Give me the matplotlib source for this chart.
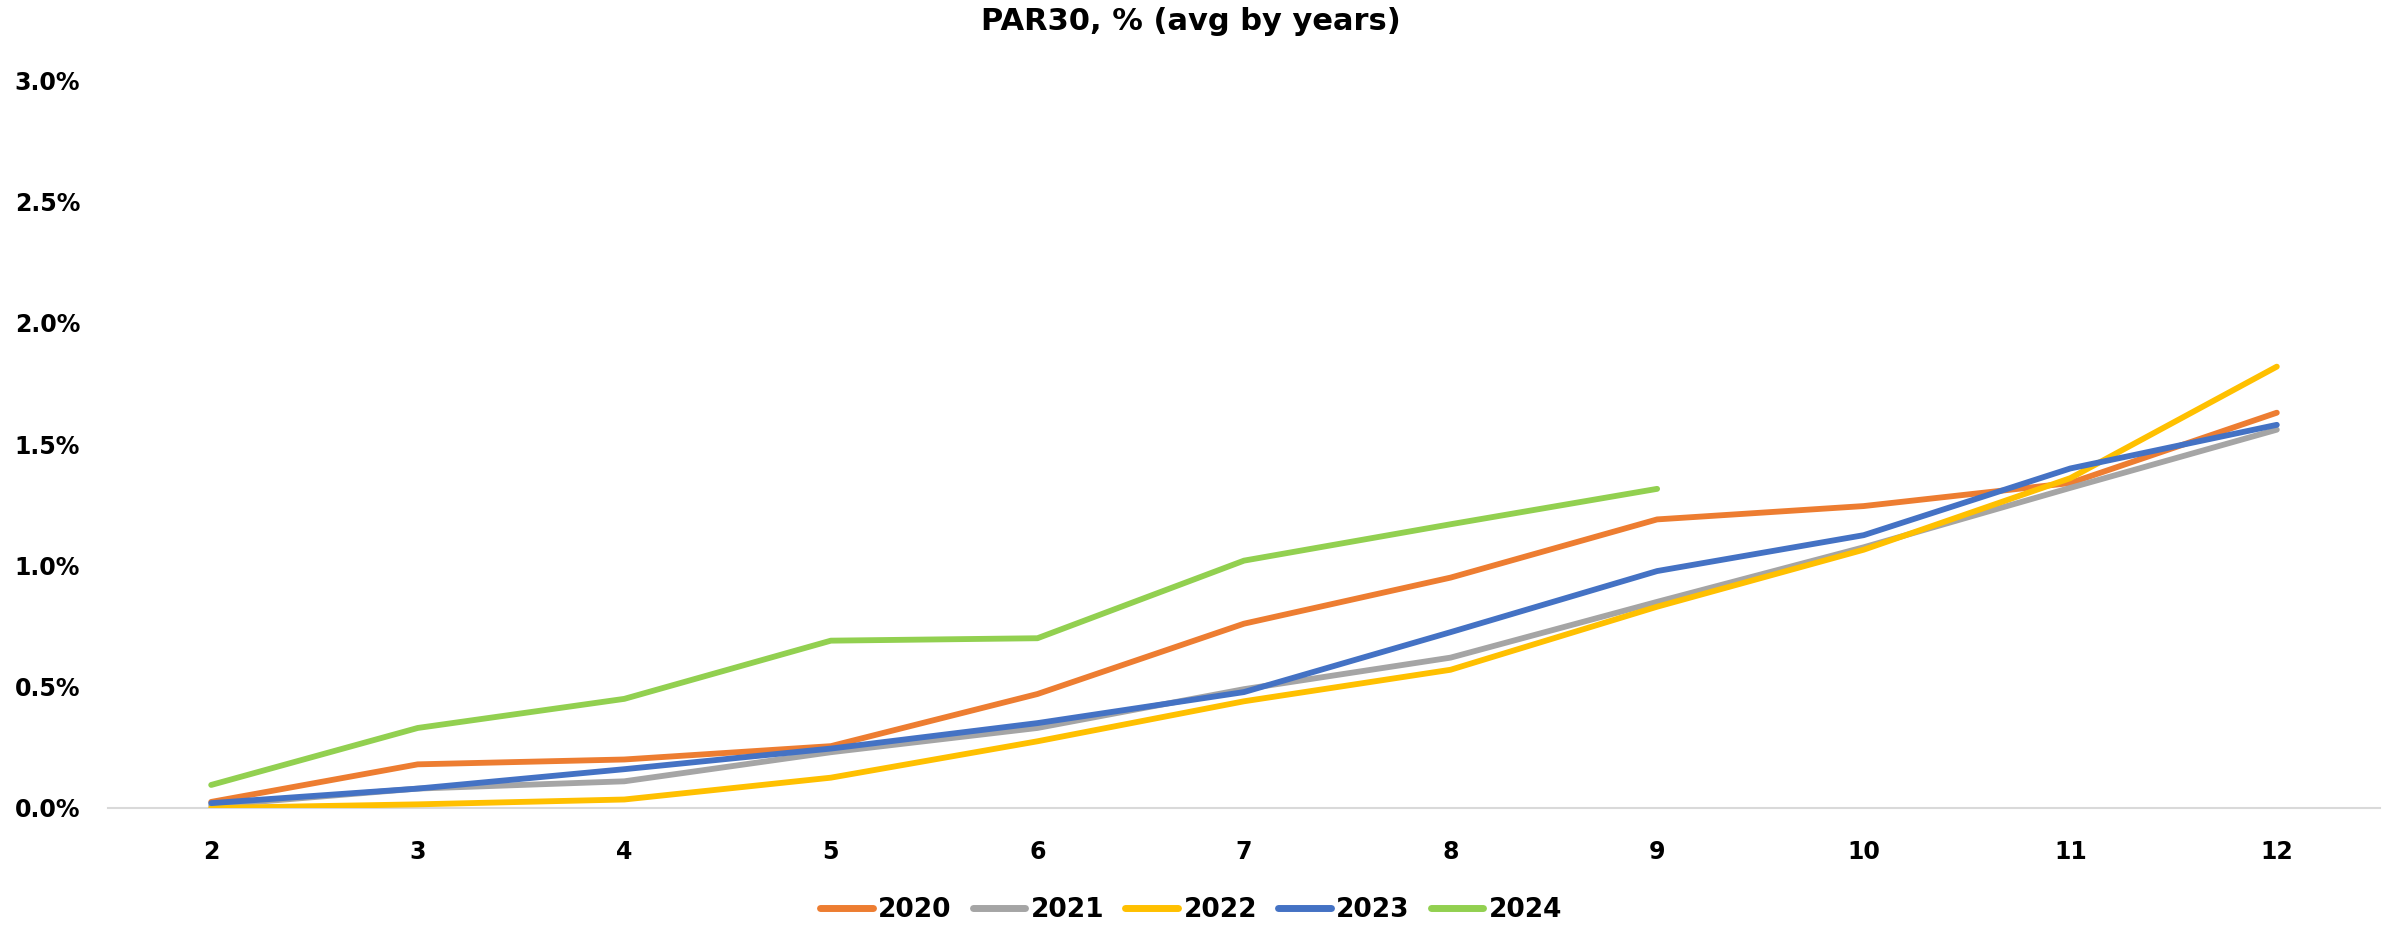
import numpy as np
import matplotlib
matplotlib.use("Agg")
import matplotlib.pyplot as plt
from matplotlib.ticker import PercentFormatter

# -------------------------------------------------------
# DATA (values in %)
# -------------------------------------------------------
months = [2, 3, 4, 5, 6, 7, 8, 9, 10, 11, 12]

par_2020 = [0.025, 0.18, 0.20, 0.255, 0.47, 0.76, 0.95, 1.19, 1.245, 1.34, 1.63]
par_2021 = [0.01, 0.08, 0.11, 0.23, 0.33, 0.49, 0.62, 0.85, 1.075, 1.32, 1.56]
par_2022 = [0.0, 0.015, 0.035, 0.125, 0.275, 0.44, 0.57, 0.83, 1.065, 1.36, 1.82]
par_2023 = [0.02, 0.08, 0.16, 0.245, 0.35, 0.478, 0.725, 0.977, 1.125, 1.40, 1.58]
par_2024 = [0.095, 0.33, 0.45, 0.69, 0.70, 1.02, 1.17, 1.316]

series_names = ['2020', '2021', '2022', '2023', '2024']
colors = ['#ED7D31', '#A5A5A5', '#FFC000', '#4472C4', '#92D050']

# -------------------------------------------------------
# PLOT
# -------------------------------------------------------
plt.rcParams['font.family'] = 'DejaVu Sans'
plt.rcParams['font.weight'] = 'bold'

fig = plt.figure(figsize=(23.82, 9.25), dpi=100)
ax = fig.add_axes([0.0453, 0.1265, 0.9539, 0.7865])

all_series = [par_2020, par_2021, par_2022, par_2023, par_2024]
for name, vals, c in zip(series_names, all_series, colors):
    ax.plot(months[:len(vals)], vals, color=c, linewidth=4.2,
            solid_capstyle='round', solid_joinstyle='round', label=name)

ax.set_xlim(1.5, 12.5)
ax.set_ylim(0, 3.0)
ax.set_xticks(months)
ax.set_yticks(np.arange(0, 3.01, 0.5))
ax.yaxis.set_major_formatter(PercentFormatter(decimals=1))

for side in ['top', 'right', 'left']:
    ax.spines[side].set_visible(False)
ax.spines['bottom'].set_color('#D9D9D9')
ax.spines['bottom'].set_linewidth(1.5)
ax.spines['bottom'].set_zorder(0)

ax.tick_params(axis='both', length=0, labelsize=17)
ax.tick_params(axis='x', pad=23)
ax.tick_params(axis='y', pad=20)
for lbl in ax.get_xticklabels() + ax.get_yticklabels():
    lbl.set_fontweight('bold')

fig.text(0.5, 1 - 22 / 925, 'PAR30, % (avg by years)', ha='center', va='center',
         fontsize=22, fontweight='bold')

leg = fig.legend(loc='center', bbox_to_anchor=(0.5, 1 - 910 / 925), ncol=5,
                 frameon=False, fontsize=19, handlelength=2.0,
                 handletextpad=0.2, columnspacing=0.8)
for t in leg.get_texts():
    t.set_fontweight('bold')
for h in leg.get_lines():
    h.set_linewidth(5)

plt.savefig('out.png', dpi=100)
